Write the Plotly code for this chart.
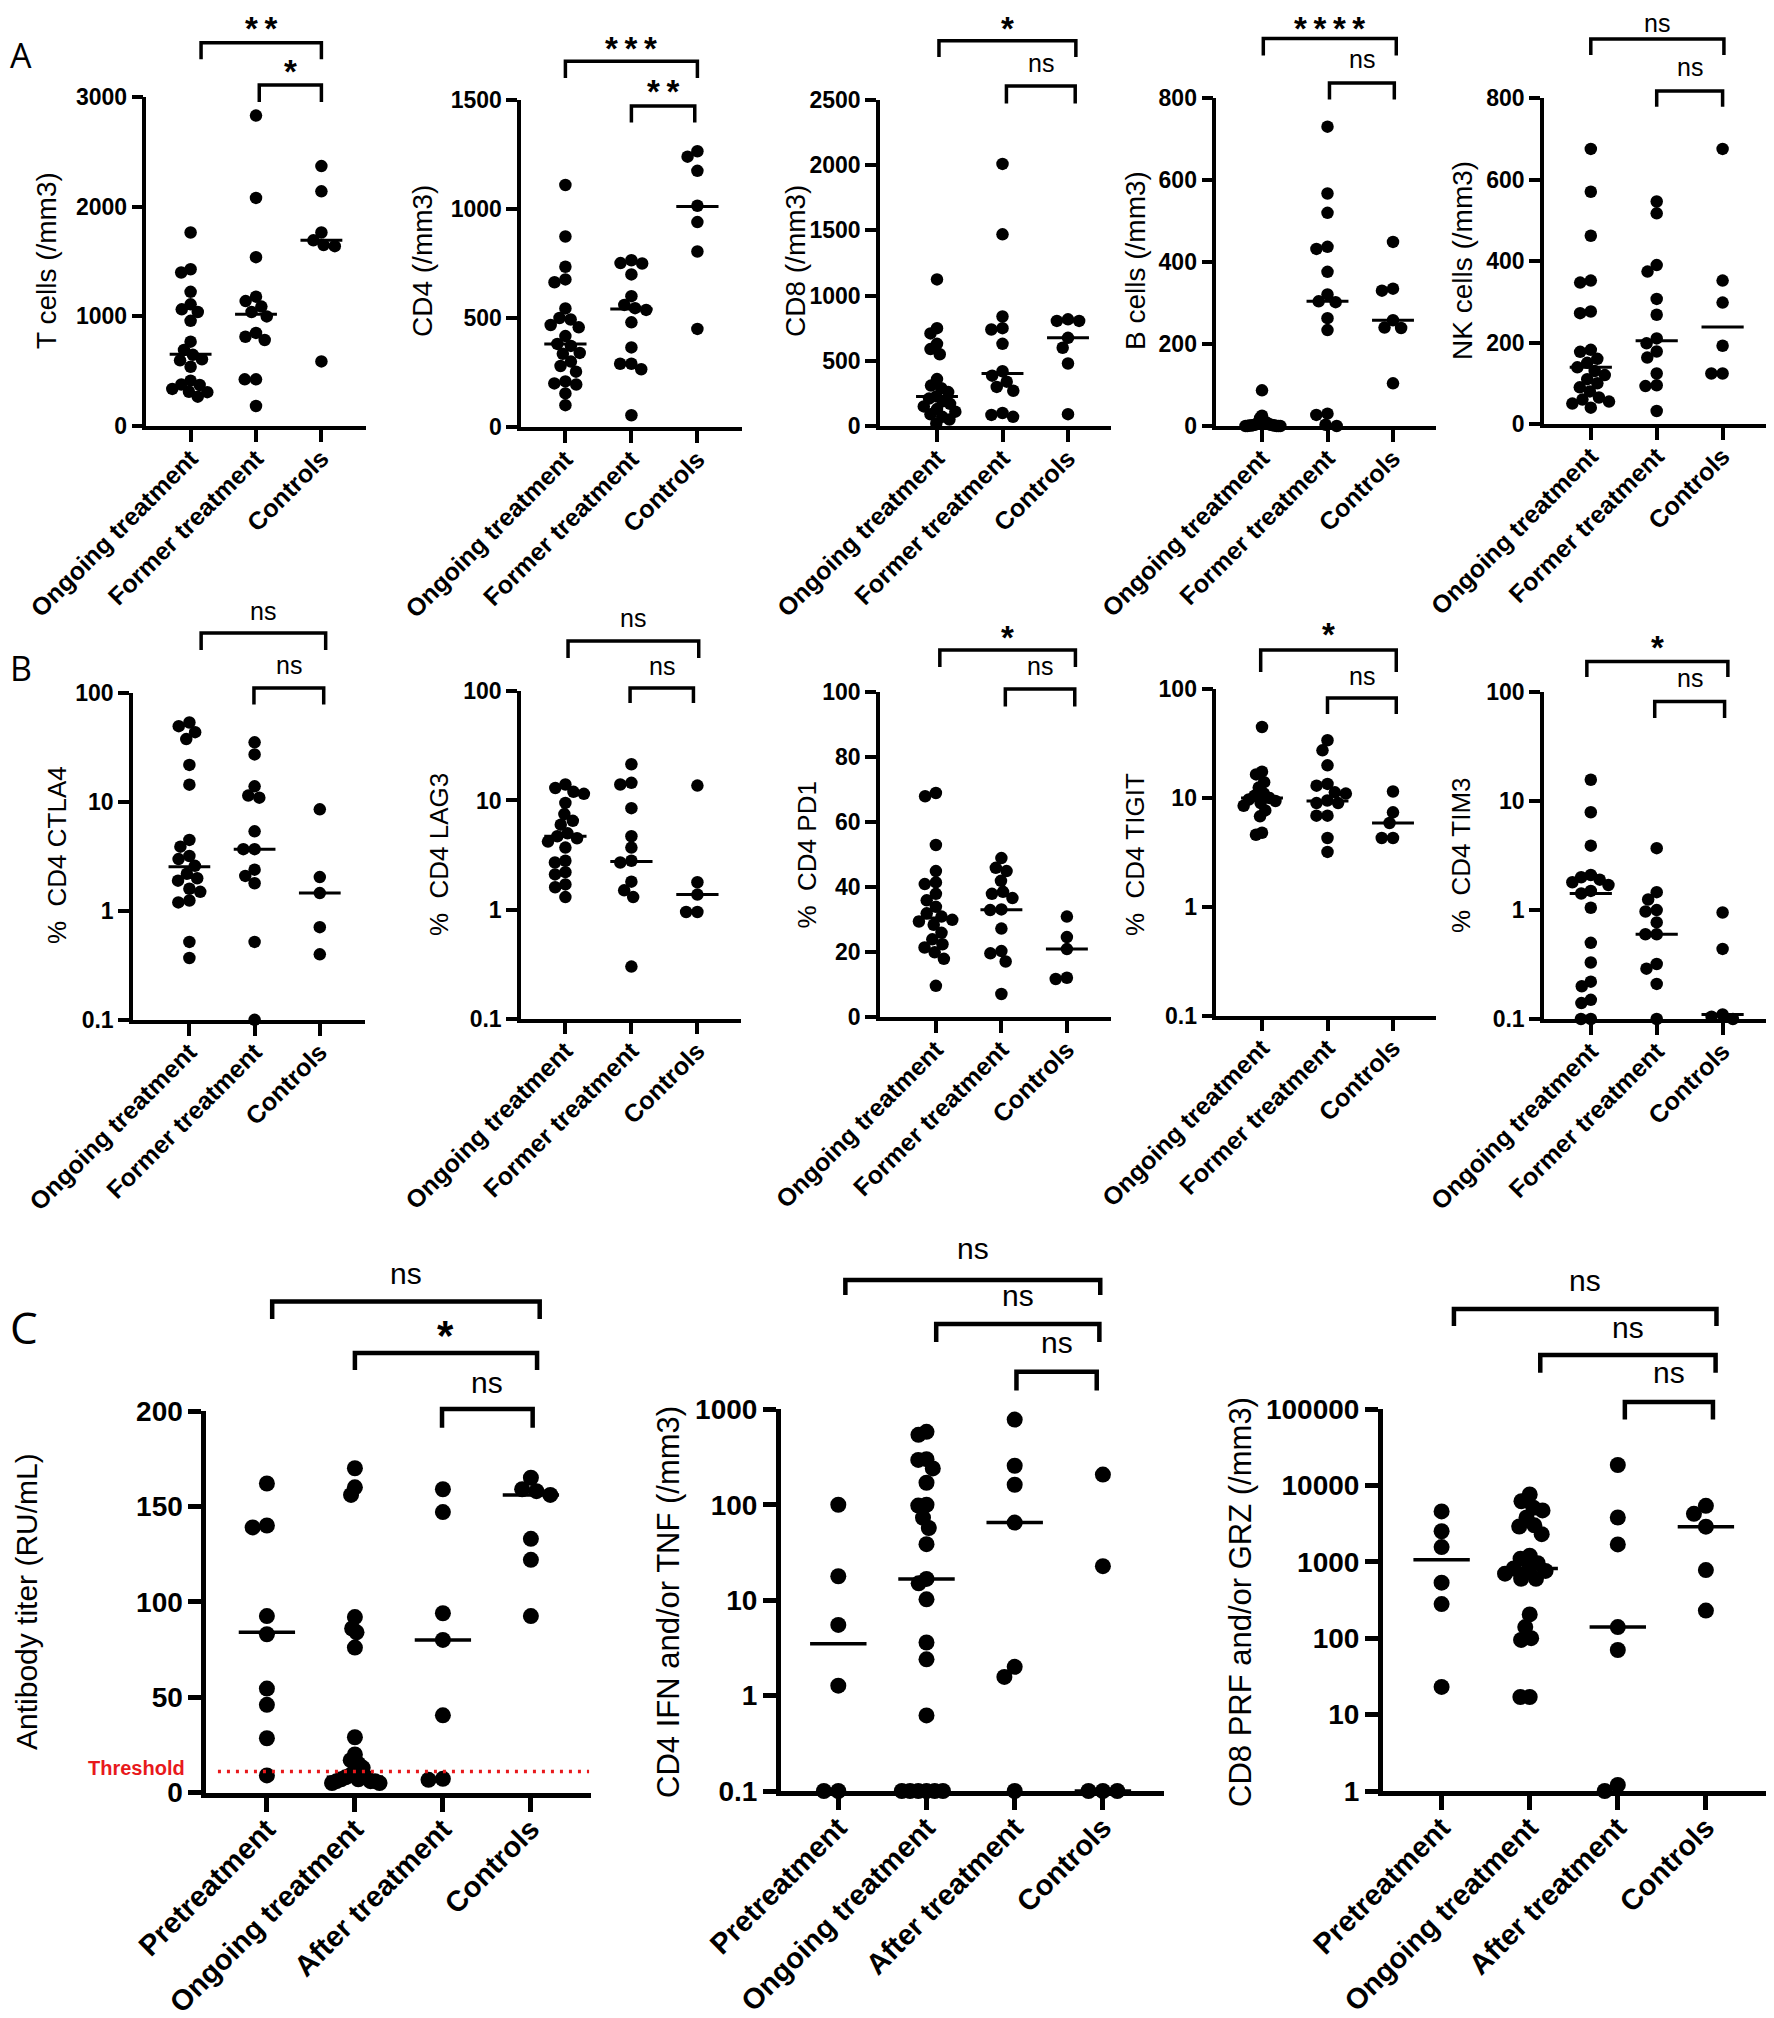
import numpy as np
import plotly.graph_objects as go

W, H = 1774, 2018
PAGE_MARGIN = 8          # default <body> margin of the html page
FONT = 'Liberation Sans, Arial, sans-serif'

groups_ab = ['Ongoing treatment', 'Former treatment', 'Controls']
groups_c = ['Pretreatment', 'Ongoing treatment', 'After treatment', 'Controls']

# --- A: absolute counts (/mm3)
tcell_ongoing = [1765, 1430, 1400, 1224, 1110, 1065, 1040, 960, 770, 694, 650, 610, 600, 542, 415, 380, 375, 340, 314, 310, 269]
tcell_former = [2830, 2080, 1540, 1180, 1140, 1090, 1040, 1000, 850, 815, 785, 427, 427, 184]
tcell_controls = [2370, 2140, 1765, 1693, 1650, 1640, 590]
tcell_medians = [655, 1020, 1693]

cd4_ongoing = [1110, 874, 735, 677, 664, 544, 500, 493, 468, 457, 417, 381, 372, 340, 336, 300, 280, 254, 209, 200, 195, 154, 100]
cd4_former = [765, 752, 750, 700, 600, 560, 545, 537, 480, 365, 290, 290, 265, 54]
cd4_controls = [1265, 1240, 1175, 1015, 940, 805, 450]
cd4_medians = [381, 541, 1012]

cd8_ongoing = [1124, 750, 710, 630, 590, 550, 360, 310, 290, 260, 227, 210, 190, 170, 150, 130, 110, 90, 70, 50, 20]
cd8_former = [2010, 1470, 840, 750, 740, 630, 420, 386, 340, 300, 270, 100, 85, 70]
cd8_controls = [818, 806, 806, 676, 600, 479, 91]
cd8_medians = [227, 403, 676]

bcell_ongoing = [87, 25, 20, 12, 10, 8, 6, 5, 4, 3, 3, 2, 2, 1, 1, 1, 0, 0, 0, 0, 0]
bcell_former = [730, 567, 520, 437, 432, 376, 321, 304, 302, 263, 234, 30, 27, 3, 0]
bcell_controls = [449, 335, 330, 258, 240, 239, 104]
bcell_medians = [3, 304, 258]

nk_ongoing = [675, 570, 462, 352, 347, 276, 272, 182, 177, 160, 150, 139, 130, 120, 110, 100, 90, 80, 65, 60, 55, 50, 40]
nk_former = [546, 517, 390, 374, 307, 268, 210, 198, 178, 163, 124, 95, 93, 32]
nk_controls = [675, 352, 298, 192, 124, 124]
nk_medians = [139, 204, 238]

# --- B: % of CD4
ctla4_ongoing = [54, 50, 44, 38, 22, 14.5, 4.5, 3.9, 3.2, 3.0, 2.6, 2.2, 2.0, 1.9, 1.6, 1.5, 1.25, 1.2, 0.52, 0.37]
ctla4_former = [35.5, 27.5, 14, 11.5, 11, 5.4, 3.7, 3.7, 2.4, 2.1, 1.8, 0.52, 0.1]
ctla4_controls = [8.6, 2.05, 1.46, 0.71, 0.40]
ctla4_medians = [2.55, 3.7, 1.46]

lag3_ongoing = [14, 13, 12, 11.5, 9.5, 7.5, 6.5, 6, 5, 4.7, 4.5, 4.2, 3.7, 2.8, 2.7, 2.2, 2.1, 1.7, 1.6, 1.3]
lag3_former = [21.5, 14.5, 14, 8.5, 4.7, 3.7, 2.8, 2.7, 1.8, 1.5, 1.3, 0.3]
lag3_controls = [13.7, 1.78, 1.37, 0.95, 0.95]
lag3_medians = [4.7, 2.75, 1.37]

pd1_ongoing = [69, 68, 53, 45, 41.5, 41, 38, 36, 34, 32, 31, 30, 29.5, 28.5, 26, 24, 22.5, 21.5, 20, 18, 9.7]
pd1_former = [49, 46, 45, 42, 38.6, 38, 36.7, 33.2, 33, 27.3, 20.4, 19.7, 17.2, 7.2]
pd1_controls = [31, 24.7, 21, 12.2, 11.8]
pd1_medians = [30.6, 33.1, 21]

tigit_ongoing = [45, 17.5, 16.5, 14, 12.5, 11, 10.5, 10, 9.7, 9.4, 9, 8.5, 7.7, 6.8, 4.8, 4.6]
tigit_former = [34, 27.5, 20, 13.5, 13, 11.3, 11, 9.5, 9, 9, 6.9, 6.9, 4.3, 3.2]
tigit_controls = [11.5, 7.4, 5.9, 4.3, 4.3]
tigit_medians = [10, 9.4, 5.9]

tim3_ongoing = [15.7, 7.9, 3.9, 2.1, 2.0, 1.9, 1.8, 1.7, 1.5, 1.42, 1.05, 0.5, 0.33, 0.22, 0.2, 0.15, 0.14, 0.1, 0.1]
tim3_former = [3.7, 1.46, 1.25, 1.0, 0.97, 0.77, 0.6, 0.6, 0.32, 0.29, 0.21, 0.1]
tim3_controls = [0.95, 0.44, 0.11, 0.105, 0.1]
tim3_medians = [1.42, 0.6, 0.11]

# --- C: vaccine response
titer_pre = [162, 140, 139, 92.5, 83, 54.5, 46, 28.5, 9]
titer_ongoing = [170, 160, 156, 92, 86, 84, 76, 29, 20, 17, 15, 13, 11, 9, 8, 8, 7, 7, 6, 6, 6, 5, 5]
titer_after = [159, 147, 94, 80, 40.5, 7.2, 6.7]
titer_controls = [165, 159, 158, 156, 133, 122, 92.5]
titer_medians = [84, 8, 80, 156]
titer_threshold = 11

ifn_pre = [100, 17.8, 5.5, 1.27, 0.1, 0.1]
ifn_ongoing = [580, 540, 300, 295, 240, 170, 100, 98, 73, 57, 38.6, 16.7, 15, 10.2, 3.6, 2.4, 0.62, 0.1, 0.1, 0.1, 0.1, 0.1, 0.1]
ifn_after = [780, 256, 162, 65, 2.0, 1.57, 0.1]
ifn_controls = [207, 22.7, 0.1, 0.1, 0.1]
ifn_medians = [3.5, 16.7, 65, 0.1]

prf_pre = [4570, 2510, 1560, 533, 280, 23]
prf_ongoing = [7600, 6200, 5100, 4700, 3800, 3000, 2900, 2300, 1200, 1100, 960, 820, 780, 760, 700, 600, 600, 205, 140, 100, 95, 17, 17]
prf_after = [18500, 3800, 1690, 140, 70, 1.2, 1.0]
prf_controls = [5400, 4240, 2880, 780, 230]
prf_medians = [1063, 820, 140, 2880]

lin_ticks = lambda top, step: [list(range(0, top + 1, step)), [str(v) for v in range(0, top + 1, step)]]
log_ticks = lambda a, b: [[10.0 ** e for e in range(a, b + 1)], [('%g' % (10.0 ** e)) for e in range(a, b + 1)]]

AB = dict(dot=12.5, lw=3.5, tick=23, cat=25, title=26, ns=25, star=33, blw=3.5, mlw=3, ticklen=11, stand=-8)
C = dict(dot=16, lw=5, tick=28, cat=29, title=31, ns=30, star=42, blw=4.5, mlw=3.5, ticklen=13, stand=-11)

# box = (left, right, top, bottom) in px; c0/step = category px position and spacing
panels = [
    dict(vals=[tcell_ongoing, tcell_former, tcell_controls], med=tcell_medians, cats=groups_ab,
         title='T cells (/mm3)', tsize=28, log=False, yr=[0, 3000], ticks=lin_ticks(3000, 1000),
         box=(146.4, 365.6, 96.9, 426.2), c0=190.6, step=65.4, tx=46, ty=261, st=AB,
         br=[(0.16, 2.0, 42.7, 59.3, '**', 21), (1.05, 2.0, 85, 102, '*', 65)]),
    dict(vals=[cd4_ongoing, cd4_former, cd4_controls], med=cd4_medians, cats=groups_ab,
         title='CD4 (/mm3)', tsize=28, log=False, yr=[0, 1500], ticks=lin_ticks(1500, 500),
         box=(521.2, 741.6, 100, 427), c0=565.4, step=66, tx=422, ty=261, st=AB,
         br=[(0, 2, 61.3, 78, '***', 41.5), (1, 1.96, 106, 122.6, '**', 85)]),
    dict(vals=[cd8_ongoing, cd8_former, cd8_controls], med=cd8_medians, cats=groups_ab,
         title='CD8 (/mm3)', tsize=28, log=False, yr=[0, 2500], ticks=lin_ticks(2500, 500),
         box=(880, 1110.9, 100, 426), c0=937, step=65.5, tx=795, ty=261, st=AB,
         br=[(0.03, 2.12, 40.7, 57, '*', 21.7), (1.06, 2.11, 86, 103.6, 'ns', 63)]),
    dict(vals=[bcell_ongoing, bcell_former, bcell_controls], med=bcell_medians, cats=groups_ab,
         title='B cells (/mm3)', tsize=28, log=False, yr=[0, 800], ticks=lin_ticks(800, 200),
         box=(1216.3, 1435.8, 98, 426), c0=1262, step=65.5, tx=1135, ty=261, st=AB,
         br=[(0.02, 2.05, 38.4, 55.4, '****', 19), (1.03, 2.02, 83, 99.6, 'ns', 59.3)]),
    dict(vals=[nk_ongoing, nk_former, nk_controls], med=nk_medians, cats=groups_ab,
         title='NK cells (/mm3)', tsize=28, log=False, yr=[0, 800], ticks=lin_ticks(800, 200),
         box=(1544, 1766, 98, 424), c0=1590.8, step=65.9, tx=1462, ty=261, st=AB,
         br=[(0, 2.02, 39, 55, 'ns', 23.5), (1.0, 2.0, 91, 106.8, 'ns', 67.2)]),
    dict(vals=[ctla4_ongoing, ctla4_former, ctla4_controls], med=ctla4_medians, cats=groups_ab,
         title='%\u00a0\u00a0CD4 CTLA4', tsize=26, log=True, yr=[-1, 2], ticks=log_ticks(-1, 2),
         box=(133, 364.5, 693.4, 1019.8), c0=189.4, step=65.2, tx=57, ty=855, st=AB,
         br=[(0.18, 2.09, 633, 650, 'ns', 610.6), (0.99, 2.06, 688, 704.4, 'ns', 665)]),
    dict(vals=[lag3_ongoing, lag3_former, lag3_controls], med=lag3_medians, cats=groups_ab,
         title='%\u00a0\u00a0CD4 LAG3', tsize=26, log=True, yr=[-1, 2], ticks=log_ticks(-1, 2),
         box=(521, 740.5, 691.4, 1018.6), c0=565.4, step=66, tx=439, ty=855, st=AB,
         br=[(0.04, 2.02, 641, 658, 'ns', 617.5), (0.98, 1.94, 688, 703, 'ns', 665.7)]),
    dict(vals=[pd1_ongoing, pd1_former, pd1_controls], med=pd1_medians, cats=groups_ab,
         title='%\u00a0\u00a0CD4 PD1', tsize=26, log=False, yr=[0, 100], ticks=lin_ticks(100, 20),
         box=(880, 1110.9, 692.2, 1017.4), c0=935.9, step=65.5, tx=806.5, ty=855, st=AB,
         br=[(0.06, 2.13, 650, 667, '*', 631), (1.06, 2.12, 689, 706.5, 'ns', 665.7)]),
    dict(vals=[tigit_ongoing, tigit_former, tigit_controls], med=tigit_medians, cats=groups_ab,
         title='%\u00a0\u00a0CD4 TIGIT', tsize=26, log=True, yr=[-1, 2], ticks=log_ticks(-1, 2),
         box=(1216.3, 1435.8, 689.3, 1015.7), c0=1262, step=65.5, tx=1135, ty=855, st=AB,
         br=[(-0.02, 2.05, 650, 672, '*', 628), (1.0, 2.05, 698, 714, 'ns', 676)]),
    dict(vals=[tim3_ongoing, tim3_former, tim3_controls], med=tim3_medians, cats=groups_ab,
         title='%\u00a0\u00a0CD4 TIM3', tsize=26, log=True, yr=[-1, 2], ticks=log_ticks(-1, 2),
         box=(1544, 1766, 692.2, 1019), c0=1590.8, step=65.9, tx=1461, ty=855, st=AB,
         br=[(-0.06, 2.08, 661.6, 677, '*', 641), (0.97, 2.03, 701.6, 718, 'ns', 678)]),
    dict(vals=[titer_pre, titer_ongoing, titer_after, titer_controls], med=titer_medians, cats=groups_c,
         title='Antibody titer (RU/mL)', tsize=30, log=False, yr=[0, 200], ticks=lin_ticks(200, 50),
         box=(206.4, 591, 1411, 1792.6), c0=266.9, step=88, tx=26, ty=1602, st=C,
         br=[(0.06, 3.1, 1301.4, 1319, 'ns', 1273.4), (1.0, 3.07, 1353, 1370, '*', 1327),
             (1.99, 3.02, 1409, 1427.7, 'ns', 1382)]),
    dict(vals=[ifn_pre, ifn_ongoing, ifn_after, ifn_controls], med=ifn_medians, cats=groups_c,
         title='CD4 IFN and/or TNF (/mm3)', tsize=31, log=True, yr=[-1, 3], ticks=log_ticks(-1, 3),
         box=(781, 1164, 1409.3, 1791), c0=838.3, step=88.2, tx=668, ty=1602, st=C,
         br=[(0.08, 2.97, 1280, 1295, 'ns', 1248), (1.11, 2.96, 1324, 1342, 'ns', 1295),
             (2.02, 2.93, 1371.7, 1390.5, 'ns', 1342)]),
    dict(vals=[prf_pre, prf_ongoing, prf_after, prf_controls], med=prf_medians, cats=groups_c,
         title='CD8 PRF and/or GRZ (/mm3)', tsize=31, log=True, yr=[0, 5], ticks=log_ticks(0, 5),
         box=(1383, 1767, 1409, 1791), c0=1441.6, step=88.1, tx=1240, ty=1602, st=C,
         br=[(0.14, 3.12, 1309, 1326, 'ns', 1280), (1.12, 3.11, 1355, 1372.7, 'ns', 1327),
             (2.08, 3.08, 1402, 1419.5, 'ns', 1372.7)]),
]

# the page puts the figure at (8, 8), so the figure is that much smaller
FW, FH = W - PAGE_MARGIN, H - PAGE_MARGIN


def fx(p):
    return (p - PAGE_MARGIN) / FW


def fy(p):
    return 1 - (p - PAGE_MARGIN) / FH


def swarm(ypix, d, maxw):
    # simple beeswarm: each point goes to the free spot closest to the centre
    placed = []
    xs = np.zeros(len(ypix))
    for i in np.argsort(ypix):
        y = ypix[i]
        cands = [0.0]
        for xj, yj in placed:
            dy = abs(y - yj)
            if dy < d:
                dx = np.sqrt(d * d - dy * dy)
                cands += [xj + dx, xj - dx]
        ok = [c for c in cands
              if all((c - xj) ** 2 + (y - yj) ** 2 >= d * d - 1e-6 for xj, yj in placed)]
        best = min(ok, key=lambda c: (round(abs(c), 6), c))
        xs[i] = best
        placed.append((best, y))
    widest = np.abs(xs).max()
    if widest > maxw:
        xs *= maxw / widest   # crowded groups overlap instead of spreading out
    return xs


fig = go.Figure()
shapes = []
annotations = []

for k, p in enumerate(panels, start=1):
    st = p['st']
    sx = '' if k == 1 else str(k)
    xref, yref = 'x' + sx, 'y' + sx
    left, right, top, bot = p['box']
    lo, hi = p['yr']
    ncat = len(p['cats'])

    for gi, vals in enumerate(p['vals']):
        v = np.array(vals, dtype=float)
        vv = np.log10(v) if p['log'] else v
        ypix = bot - (vv - lo) / (hi - lo) * (bot - top)
        off = swarm(ypix, st['dot'] * 0.9, 0.28 * p['step']) / p['step']
        fig.add_trace(go.Scatter(x=gi + off, y=v, mode='markers', xaxis=xref, yaxis=yref,
                                 marker=dict(size=st['dot'], color='black'),
                                 cliponaxis=False, showlegend=False, hoverinfo='y'))
        m = p['med'][gi]
        fig.add_trace(go.Scatter(x=[gi - 0.32, gi + 0.32], y=[m, m], mode='lines',
                                 xaxis=xref, yaxis=yref, cliponaxis=False,
                                 line=dict(color='black', width=st['mlw']),
                                 showlegend=False, hoverinfo='skip'))

    xr = [(left - p['c0']) / p['step'], (right - p['c0']) / p['step']]
    fig.layout['xaxis' + sx] = dict(
        domain=[fx(left), fx(right)], anchor=yref, range=xr, automargin=False,
        tickmode='array', tickvals=list(range(ncat)), ticktext=p['cats'], tickangle=-45,
        ticks='outside', ticklen=st['ticklen'] + 1, tickwidth=st['lw'], tickcolor='black',
        ticklabelstandoff=st['stand'],
        showline=True, linewidth=st['lw'], linecolor='black', showgrid=False, zeroline=False,
        tickfont=dict(family=FONT, size=st['cat'], color='black', weight='bold'))
    fig.layout['yaxis' + sx] = dict(
        domain=[fy(bot), fy(top)], anchor=xref, range=[lo, hi], automargin=False,
        type='log' if p['log'] else 'linear',
        tickmode='array', tickvals=p['ticks'][0], ticktext=p['ticks'][1],
        ticks='outside', ticklen=st['ticklen'], tickwidth=st['lw'], tickcolor='black',
        showline=True, linewidth=st['lw'], linecolor='black', showgrid=False, zeroline=False,
        tickfont=dict(family=FONT, size=st['tick'], color='black', weight='bold'))

    annotations.append(dict(x=fx(p['tx']), y=fy(p['ty']), xref='paper', yref='paper',
                            xanchor='center', yanchor='middle',
                            text=p['title'], textangle=-90, showarrow=False,
                            font=dict(family=FONT, size=p['tsize'], color='black')))

    for x1, x2, ytop, yleg, lab, ylab in p['br']:
        path = 'M {a},{b} L {a},{c} L {d},{c} L {d},{b}'.format(a=x1, b=fy(yleg), c=fy(ytop), d=x2)
        shapes.append(dict(type='path', path=path, xref=xref, yref='paper',
                           line=dict(color='black', width=st['blw'])))
        if lab.startswith('*'):
            txt = '\u2009'.join(lab)
            # asterisks sit high in their text box; keep the box inside the page
            yc = max(ylab + 0.2 * st['star'], PAGE_MARGIN + 0.62 * st['star'])
            annotations.append(dict(x=(x1 + x2) / 2, y=fy(yc), xref=xref,
                                    yref='paper', xanchor='center', yanchor='middle',
                                    text=txt, showarrow=False,
                                    font=dict(family=FONT, size=st['star'], color='black',
                                              weight='bold')))
        else:
            annotations.append(dict(x=(x1 + x2) / 2, y=fy(ylab), xref=xref, yref='paper',
                                    xanchor='center', yanchor='middle',
                                    text=lab, showarrow=False,
                                    font=dict(family=FONT, size=st['ns'], color='black')))

# threshold line on the antibody titer panel
shapes.append(dict(type='line', xref='x11 domain', yref='y11', x0=0.03, x1=0.995,
                   y0=titer_threshold, y1=titer_threshold,
                   line=dict(color='#e8191c', width=3.5, dash='3px,6px')))
annotations.append(dict(x=fx(187), y=fy(1768), xref='paper', yref='paper',
                        xanchor='right', yanchor='middle',
                        text='Threshold', showarrow=False,
                        font=dict(family=FONT, size=20, color='#e8191c', weight='bold')))

for letter, y, size in [('A', 55, 34), ('B', 668, 34), ('C', 1327, 44)]:
    annotations.append(dict(x=fx(PAGE_MARGIN), y=fy(y), xref='paper', yref='paper', text=letter,
                            xanchor='left', yanchor='middle', showarrow=False,
                            font=dict(family='Open Sans, ' + FONT, size=size, color='black')))

fig.update_layout(template='none', width=FW, height=FH, autosize=False,
                  margin=dict(l=0, r=0, t=0, b=0, pad=0),
                  paper_bgcolor='white', plot_bgcolor='white', showlegend=False,
                  shapes=shapes, annotations=annotations, font=dict(family=FONT, color='black'))

fig.write_html('out.html')
